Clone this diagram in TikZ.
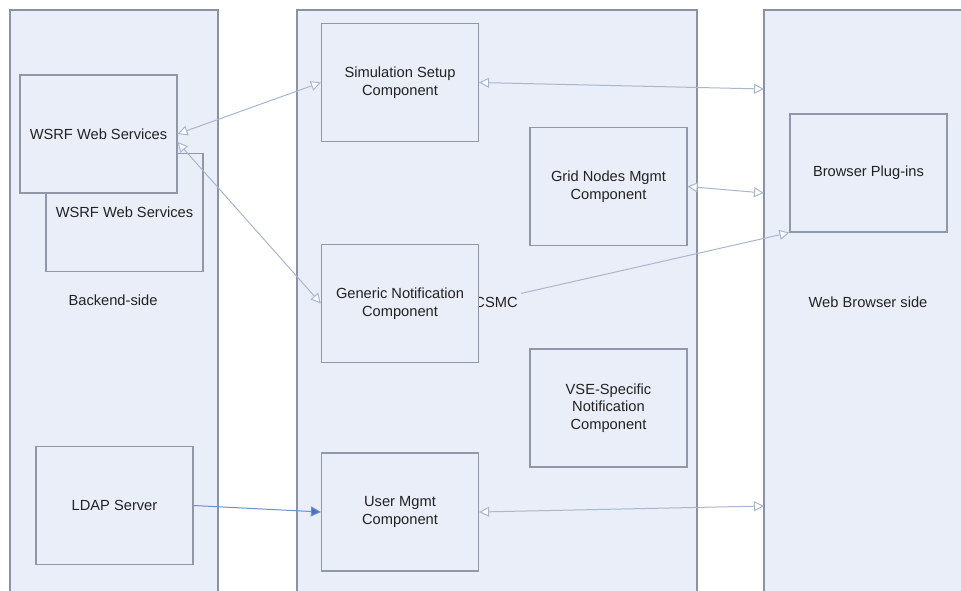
\documentclass[tikz,border=0pt]{standalone}
\usepackage{fontspec}
\setmainfont{Liberation Sans}
\usetikzlibrary{arrows.meta}

\definecolor{panelfill}{HTML}{E9EEF8}
\definecolor{panelline}{HTML}{8A92A4}
\definecolor{boxline}{HTML}{9098A8}
\definecolor{linkline}{HTML}{A8B7CE}
\definecolor{ldapblue}{HTML}{4A74B8}
\definecolor{textgray}{HTML}{222222}

\tikzset{
    box/.style={draw=boxline, fill=panelfill, line width=0.9pt, minimum width=117.75pt,
        minimum height=88.5pt, align=center, text=textgray, font=\fontsize{11}{13.2}\selectfont},
    label/.style={text=textgray, font=\fontsize{11}{13.2}\selectfont},
    link/.style={draw=linkline, line width=0.75pt, {Triangle[fill=white,length=7.5pt,width=7.5pt]}-{Triangle[fill=white,length=7.5pt,width=7.5pt]}},
    onelink/.style={draw=linkline, line width=0.75pt, -{Triangle[fill=white,length=7.5pt,width=7.5pt]}}
}

\begin{document}
\begin{tikzpicture}[x=0.75pt,y=-0.75pt]
    \clip (0,0) rectangle (961,590);
    \fill[white] (0,0) rectangle (961,590);

    % Les trois zones
    \filldraw[fill=panelfill, draw=panelline, line width=0.8pt] (10,10) rectangle (218,600);
    \filldraw[fill=panelfill, draw=panelline, line width=0.8pt] (297,10) rectangle (697,600);
    \filldraw[fill=panelfill, draw=panelline, line width=0.8pt] (764,10) rectangle (975,600);

    % Titres des zones
    \node[label] (BACK) at (113,300) {Backend-side};
    \node[label] (CSMC) at (496,302) {CSMC};
    \node[label] (WEB) at (868,302) {Web Browser side};

    % Points libres sur le bord de la zone navigateur
    \coordinate (W1) at (764,89);
    \coordinate (W2) at (764,193);
    \coordinate (W3) at (764,506);

    % Backend side
    \node[box] (WSRF2) at (124.5,212.5) {WSRF Web Services};
    \node[box] (WSRF1) at (98.5,134) {WSRF Web Services};
    \node[box] (LDAP) at (114.5,505.5) {LDAP Server};

    % Composants CSMC
    \node[box] (SIM) at (400,82.5) {Simulation Setup\\Component};
    \node[box] (GRID) at (608.5,186.5) {Grid Nodes Mgmt\\Component};
    \node[box] (GEN) at (400,303.5) {Generic Notification\\Component};
    \node[box] (VSE) at (608.5,408) {VSE-Specific\\Notification\\Component};
    \node[box] (USER) at (400,512) {User Mgmt\\Component};

    % Browser side
    \node[box] (PLUG) at (868.5,173) {Browser Plug-ins};

    % Liens
    \draw[link] (WSRF1.east) -- (SIM.west);
    \draw[link] ([yshift=-6pt]WSRF1.east) -- (GEN.west);
    \draw[link] (SIM.east) -- (W1);
    \draw[link] (GRID.east) -- (W2);
    \draw[onelink] ([xshift=-1pt,yshift=-1pt]CSMC.north east) -- (PLUG.south west);
    \draw[link] (USER.east) -- (W3);

    % LDAP vers User Mgmt
    \draw[ldapblue!80, line width=0.75pt, -{Triangle[fill=ldapblue,length=7.5pt,width=7.5pt]}] (LDAP.east) -- (USER.west);
\end{tikzpicture}
\end{document}
